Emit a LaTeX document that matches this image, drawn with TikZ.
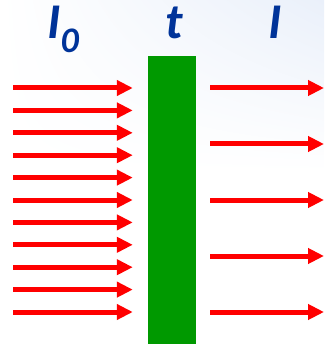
\documentclass[tikz,border=0pt]{standalone}
\usepackage{fontspec}
\setmainfont{Carlito}
\usetikzlibrary{arrows.meta,shadings}
\definecolor{beamred}{RGB}{255,0,0}
\definecolor{slabgreen}{RGB}{0,153,0}
\definecolor{quantityblue}{RGB}{0,51,153}
\definecolor{glowblue}{RGB}{234,240,250}

\begin{document}
\begin{tikzpicture}[
    x=1pt, y=-1pt,
    quantity/.style={
        text=quantityblue,
        font=\fontsize{50}{60}\selectfont\bfseries\itshape,
        anchor=base,
        inner sep=0pt
    },
    slab/.style={
        fill=slabgreen,
        minimum width=48pt,
        minimum height=288pt,
        inner sep=0pt
    },
    beam/.style={
        draw=beamred,
        line width=5pt,
        -{Triangle[length=16pt,width=15pt]}
    }
]
    % faint background
    \fill[white] (0,0) rectangle (324,344);
    \shade[upper left=white, upper right=glowblue,
           lower left=white, lower right=white]
        (0,0) rectangle (324,172);
    \useasboundingbox (0,0) rectangle (324,344);

    \node[slab] (slab) at (172,200) {};

    \node[quantity] (incident) at (63,39)
        {I\raisebox{-14pt}{\fontsize{36}{40}\selectfont 0}};
    \node[quantity] (thickness) at (174,39) {t};
    \node[quantity] (transmitted) at (275,39) {I};

    % incoming beam
    \foreach \k [evaluate=\k as \ypos using 88+22.4*\k] in {0,...,10} {
        \coordinate (in\k) at (13,\ypos);
        \draw[beam, shorten >=15pt] (in\k) -- (in\k -| slab.west);
    }

    % transmitted beam
    \foreach \k [evaluate=\k as \ypos using 88+56*\k] in {0,...,4} {
        \coordinate (out\k) at (324,\ypos);
        \draw[beam, shorten <=14pt] (out\k -| slab.east) -- (out\k);
    }
\end{tikzpicture}
\end{document}
